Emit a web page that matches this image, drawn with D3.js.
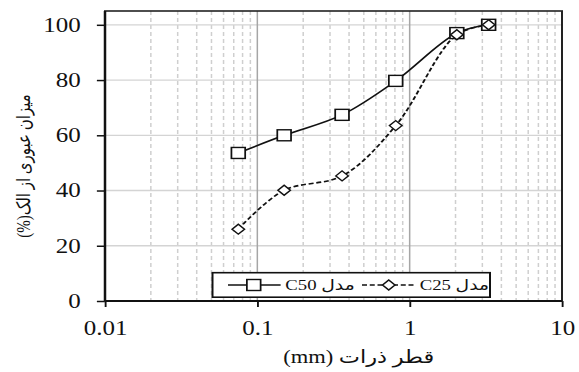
<!DOCTYPE html>
<html>
<head>
<meta charset="utf-8">
<script src="https://cdn.jsdelivr.net/npm/d3@7"></script>
<style>
  body { margin: 0; background: #fff; }
  svg text { font-family: "Liberation Serif", "Times New Roman", Tinos, "DejaVu Serif", serif; }
  svg text.ar { font-family: "Liberation Serif", "Times New Roman", "DejaVu Sans", sans-serif; }
</style>
</head>
<body>
<div id="chart"></div>
<script>
// particle sizes (mm) and passing percentages
var sizes = [0.075, 0.15, 0.36, 0.81, 2.04, 3.3];
var c50 = [53.6, 60, 67.4, 79.7, 97, 100];
var c25 = [26, 40.1, 45.3, 63.5, 96.4, 100];
var xTicks = [0.01, 0.1, 1, 10];
var yTicks = [0, 20, 40, 60, 80, 100];
var seriesNames = ["مدل C50", "مدل C25"];
var xTitle = "قطر ذرات (mm)";
var yTitle = "میزان عبوری از الک(%)";

function createGraph() {
    var frame_width  = 579,
        frame_height = 372,
        stretch      = 1.25,                 // the picture is stretched sideways
        left = 84, right = 449.6, top = 11, bottom = 301;

    var svg = d3.select("#chart").append("svg")
        .attr("width", frame_width)
        .attr("height", frame_height);

    var g = svg.append("g")
        .attr("transform", "scale(" + stretch + ",1)");

    var x = d3.scaleLog().domain([0.01, 10]).range([left, right]);
    var y = d3.scaleLinear().domain([0, 105]).range([bottom, top]);

    // minor dashed verticals
    var minors = [];
    [0.01, 0.1, 1].forEach(function(d) {
        for (var k = 2; k <= 9; k++) minors.push(d * k);
    });
    g.selectAll(".minor").data(minors).enter().append("line")
        .attr("x1", function(d) { return x(d); })
        .attr("x2", function(d) { return x(d); })
        .attr("y1", top).attr("y2", bottom)
        .attr("stroke", "#cfcfcf")
        .attr("stroke-width", 1.2)
        .attr("stroke-dasharray", "4,3");

    // horizontal grid
    g.selectAll(".hgrid").data(yTicks.filter(function(d) { return d > 0; })).enter().append("line")
        .attr("x1", left).attr("x2", right)
        .attr("y1", function(d) { return y(d); })
        .attr("y2", function(d) { return y(d); })
        .attr("stroke", "#d4d4d4")
        .attr("stroke-width", 1.3);

    // major verticals
    g.selectAll(".vgrid").data([0.1, 1]).enter().append("line")
        .attr("x1", function(d) { return x(d); })
        .attr("x2", function(d) { return x(d); })
        .attr("y1", top).attr("y2", bottom)
        .attr("stroke", "#a6a6a6")
        .attr("stroke-width", 1.2);

    // axes
    var ya = g.append("g")
        .attr("transform", "translate(" + left + ",0)")
        .call(d3.axisLeft(y).tickValues(yTicks).tickSize(6.5).tickPadding(13).tickFormat(d3.format("d")));
    var xa = g.append("g")
        .attr("transform", "translate(0," + bottom + ")")
        .call(d3.axisBottom(x).tickValues(xTicks).tickSize(6).tickPadding(14).tickFormat(function(d) { return String(d); }));
    [ya, xa].forEach(function(a) {
        a.attr("font-family", null);
        a.select(".domain").remove();
        a.selectAll("line").attr("stroke", "#111").attr("stroke-width", 1.5);
        a.selectAll("text").attr("font-size", 20).attr("fill", "#111");
    });

    // frame
    g.append("rect")
        .attr("x", left).attr("y", top)
        .attr("width", right - left).attr("height", bottom - top)
        .attr("fill", "none").attr("stroke", "#222").attr("stroke-width", 1.6);
    g.append("line").attr("x1", left).attr("x2", left).attr("y1", top).attr("y2", bottom)
        .attr("stroke", "#111").attr("stroke-width", 2);
    g.append("line").attr("x1", left).attr("x2", right).attr("y1", bottom).attr("y2", bottom)
        .attr("stroke", "#111").attr("stroke-width", 2);

    var line = d3.line()
        .x(function(d) { return x(d[0]); })
        .y(function(d) { return y(d[1]); })
        .curve(d3.curveCatmullRom.alpha(0.5));

    var d50 = sizes.map(function(s, i) { return [s, c50[i]]; });
    var d25 = sizes.map(function(s, i) { return [s, c25[i]]; });

    g.append("path").datum(d50)
        .attr("fill", "none").attr("stroke", "#111").attr("stroke-width", 1.6)
        .attr("d", line);
    g.append("path").datum(d25)
        .attr("fill", "none").attr("stroke", "#111").attr("stroke-width", 1.6)
        .attr("stroke-dasharray", "4,2.2")
        .attr("d", line);

    var sq = 11, dm = 5;
    function square(sel, cx, cy) {
        sel.append("rect")
            .attr("x", cx - sq / 2).attr("y", cy - sq / 2)
            .attr("width", sq).attr("height", sq)
            .attr("fill", "#fff").attr("stroke", "#111").attr("stroke-width", 1.4);
    }
    function diamond(sel, cx, cy) {
        sel.append("path")
            .attr("d", "M" + cx + "," + (cy - dm) + "L" + (cx + dm) + "," + cy +
                       "L" + cx + "," + (cy + dm) + "L" + (cx - dm) + "," + cy + "Z")
            .attr("fill", "#fff").attr("stroke", "#111").attr("stroke-width", 1.3);
    }
    d50.forEach(function(d) { square(g, x(d[0]), y(d[1])); });
    d25.forEach(function(d) { diamond(g, x(d[0]), y(d[1])); });

    // legend
    var lg = g.append("g");
    lg.append("rect")
        .attr("x", 170).attr("y", 272.7).attr("width", 222).attr("height", 24.5)
        .attr("fill", "#fff").attr("stroke", "#111").attr("stroke-width", 1.6);
    var ly = 285;
    lg.append("line").attr("x1", 182.4).attr("x2", 224.5).attr("y1", ly).attr("y2", ly)
        .attr("stroke", "#111").attr("stroke-width", 1.6);
    square(lg, 203, ly);
    lg.append("text").attr("class", "ar")
        .attr("x", 256).attr("y", ly).attr("dy", "0.35em")
        .attr("text-anchor", "middle").attr("direction", "rtl")
        .attr("font-size", 15).attr("fill", "#111")
        .text(seriesNames[0]);
    lg.append("line").attr("x1", 289.6).attr("x2", 332.5).attr("y1", ly).attr("y2", ly)
        .attr("stroke", "#111").attr("stroke-width", 1.6).attr("stroke-dasharray", "4,2.2");
    diamond(lg, 311, ly);
    lg.append("text").attr("class", "ar")
        .attr("x", 363.5).attr("y", ly).attr("dy", "0.35em")
        .attr("text-anchor", "middle").attr("direction", "rtl")
        .attr("font-size", 15).attr("fill", "#111")
        .text(seriesNames[1]);

    // axis titles
    g.append("text").attr("class", "ar")
        .attr("x", 287).attr("y", 363)
        .attr("text-anchor", "middle").attr("direction", "rtl")
        .attr("font-size", 18).attr("fill", "#111")
        .text(xTitle);
    g.append("text").attr("class", "ar")
        .attr("transform", "translate(24," + 166 + ") rotate(-90)")
        .attr("text-anchor", "middle").attr("direction", "rtl")
        .attr("font-size", 15).attr("fill", "#111")
        .text(yTitle);
}

createGraph();
</script>
</body>
</html>
